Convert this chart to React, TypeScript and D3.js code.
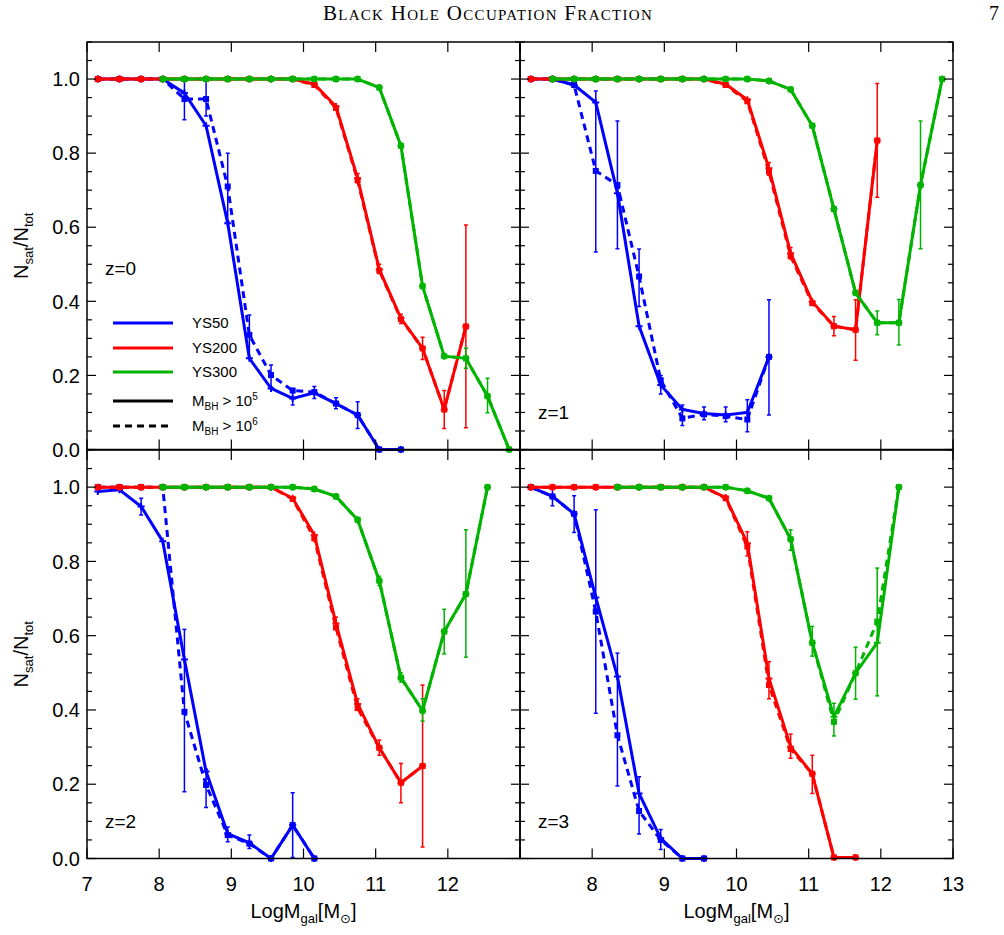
import { useRef, useEffect } from "react";
import * as d3 from "d3";

const N = null;

// mass bins (log M_gal)
const xBins = [7.15, 7.45, 7.75, 8.05, 8.35, 8.65, 8.95, 9.25, 9.55, 9.85, 10.15, 10.45, 10.75, 11.05, 11.35, 11.65, 11.95, 12.25, 12.55, 12.85];

// z = 0
const z0BlueSolid = [1, 1, 1, 1, 0.962, 0.874, 0.611, 0.246, 0.165, 0.138, 0.153, 0.124, 0.093, 0, 0, N, N, N, N, N];
const z0BlueDashed = [1, 1, 1, 1, 0.946, 0.946, 0.71, 0.309, 0.201, 0.159, 0.155, 0.124, 0.093, 0, 0, N, N, N, N, N];
const z0RedSolid = [1, 1, 1, 1, 1, 1, 1, 1, 1, 1, 0.986, 0.926, 0.732, 0.486, 0.354, 0.273, 0.108, 0.332, N, N];
const z0RedDashed = [1, 1, 1, 1, 1, 1, 1, 1, 1, 1, 0.984, 0.922, 0.727, 0.483, 0.352, 0.273, 0.108, 0.332, N, N];
const z0GreenSolid = [N, N, N, 1, 1, 1, 1, 1, 1, 1, 1, 1, 1, 0.977, 0.82, 0.441, 0.252, 0.246, 0.144, 0];
const z0GreenDashed = [N, N, N, 1, 1, 1, 1, 1, 1, 1, 1, 1, 1, 0.977, 0.82, 0.441, 0.252, 0.246, 0.144, 0];
const z0BlueErr = [[8.35, 0.89, 0.995], [8.65, 0.9, 1.0], [8.95, 0.615, 0.8], [9.25, 0.246, 0.363], [9.55, 0.169, 0.228], [9.85, 0.12, 0.165], [10.15, 0.138, 0.17], [10.45, 0.11, 0.14], [10.75, 0.057, 0.129]];
const z0RedErr = [[10.75, 0.72, 0.745], [11.05, 0.475, 0.5], [11.35, 0.34, 0.365], [11.65, 0.243, 0.303], [11.95, 0.057, 0.159], [12.25, 0.059, 0.606]];
const z0GreenErr = [[12.25, 0.219, 0.273], [12.55, 0.099, 0.192]];

// z = 1
const z1BlueSolid = [1, 1, 0.984, 0.937, 0.692, 0.333, 0.174, 0.108, 0.097, 0.093, 0.1, 0.25, N, N, N, N, N, N, N, N];
const z1BlueDashed = [1, 1, 0.984, 0.752, 0.714, 0.467, 0.187, 0.084, 0.095, 0.09, 0.081, 0.25, N, N, N, N, N, N, N, N];
const z1RedSolid = [1, 1, 1, 1, 1, 1, 1, 1, 1, 0.986, 0.944, 0.759, 0.53, 0.399, 0.333, 0.323, 0.834, N, N, N];
const z1RedDashed = [1, 1, 1, 1, 1, 1, 1, 1, 1, 0.984, 0.94, 0.75, 0.522, 0.395, 0.333, 0.323, 0.834, N, N, N];
const z1GreenSolid = [N, 1, 1, 1, 1, 1, 1, 1, 1, 1, 1, 0.995, 0.972, 0.874, 0.649, 0.423, 0.342, 0.342, 0.714, 1];
const z1GreenDashed = [N, 1, 1, 1, 1, 1, 1, 1, 1, 1, 1, 0.995, 0.972, 0.874, 0.649, 0.423, 0.342, 0.342, 0.714, 1];
const z1BlueErr = [[8.05, 0.533, 0.968], [8.35, 0.542, 0.887], [8.65, 0.386, 0.541], [8.95, 0.15, 0.2], [9.25, 0.065, 0.12], [9.55, 0.08, 0.115], [9.85, 0.075, 0.115], [10.15, 0.048, 0.134], [10.45, 0.093, 0.404]];
const z1RedErr = [[10.45, 0.74, 0.775], [10.75, 0.515, 0.545], [11.35, 0.307, 0.359], [11.65, 0.241, 0.404], [11.95, 0.681, 0.988]];
const z1GreenErr = [[11.95, 0.31, 0.374], [12.25, 0.282, 0.405], [12.55, 0.542, 0.887]];

// z = 2
const z2BlueSolid = [0.988, 0.993, 0.948, 0.854, 0.536, 0.234, 0.067, 0.042, 0, 0.09, 0, N, N, N, N, N, N, N, N, N];
const z2BlueDashed = [1, 1, 1, 1, 0.395, 0.198, 0.063, 0.04, 0, 0.09, 0, N, N, N, N, N, N, N, N, N];
const z2RedSolid = [1, 1, 1, 1, 1, 1, 1, 1, 1, 0.97, 0.871, 0.633, 0.416, 0.298, 0.204, 0.249, N, N, N, N];
const z2RedDashed = [1, 1, 1, 1, 1, 1, 1, 1, 1, 0.968, 0.862, 0.622, 0.405, 0.298, 0.204, 0.249, N, N, N, N];
const z2GreenSolid = [N, N, N, 1, 1, 1, 1, 1, 1, 1, 0.995, 0.975, 0.912, 0.748, 0.487, 0.398, 0.611, 0.712, 1, N];
const z2GreenDashed = [N, N, N, 1, 1, 1, 1, 1, 1, 1, 0.995, 0.975, 0.912, 0.748, 0.487, 0.398, 0.611, 0.712, 1, N];
const z2BlueErr = [[7.75, 0.925, 0.97], [8.35, 0.18, 0.617], [8.65, 0.137, 0.24], [8.95, 0.045, 0.085], [9.25, 0.027, 0.063], [9.85, 0.003, 0.177]];
const z2RedErr = [[10.45, 0.62, 0.65], [10.75, 0.4, 0.43], [11.05, 0.278, 0.319], [11.35, 0.15, 0.256], [11.65, 0.031, 0.467]];
const z2GreenErr = [[11.05, 0.735, 0.76], [11.35, 0.475, 0.5], [11.65, 0.37, 0.43], [11.95, 0.551, 0.671], [12.25, 0.542, 0.885]];

// z = 3
const z3BlueSolid = [1, 0.975, 0.928, 0.703, 0.49, 0.175, 0.054, 0, 0, N, N, N, N, N, N, N, N, N, N, N];
const z3BlueDashed = [1, 0.975, 0.928, 0.665, 0.332, 0.128, 0.05, 0, 0, N, N, N, N, N, N, N, N, N, N, N];
const z3RedSolid = [1, 1, 1, 1, 1, 1, 1, 1, 1, 0.972, 0.849, 0.485, 0.301, 0.228, 0.003, 0.003, N, N, N, N];
const z3RedDashed = [1, 1, 1, 1, 1, 1, 1, 1, 1, 0.97, 0.84, 0.467, 0.295, 0.228, 0.003, 0.003, N, N, N, N];
const z3GreenSolid = [N, N, N, N, 1, 1, 1, 1, 1, 1, 0.99, 0.97, 0.86, 0.581, 0.382, 0.499, 0.581, 1, N, N];
const z3GreenDashed = [N, N, N, N, 1, 1, 1, 1, 1, 1, 0.99, 0.97, 0.86, 0.581, 0.368, 0.499, 0.638, 1, N, N];
const z3BlueErr = [[7.45, 0.95, 1.0], [7.75, 0.878, 0.977], [8.05, 0.391, 0.939], [8.35, 0.195, 0.553], [8.65, 0.066, 0.22], [8.95, 0.024, 0.078]];
const z3RedErr = [[10.15, 0.815, 0.88], [10.45, 0.43, 0.53], [10.75, 0.27, 0.335], [11.05, 0.175, 0.278]];
const z3GreenErr = [[10.75, 0.83, 0.885], [11.05, 0.545, 0.625], [11.35, 0.33, 0.418], [11.65, 0.429, 0.569], [11.95, 0.438, 0.782]];

const legendNames = ["YS50", "YS200", "YS300"];
const yTicks = [0, 0.2, 0.4, 0.6, 0.8, 1.0];
const xTicks = [7, 8, 9, 10, 11, 12, 13];

const BLUE = "#0000ff";
const RED = "#ff0000";
const GREEN = "#00b400";
const FONT = "'Liberation Sans', Arial, Helvetica, sans-serif";
const SERIF = "'Liberation Serif', 'Times New Roman', serif";

type Err = number[];
interface Panel {
  label: string;
  col: number;
  row: number;
  series: { color: string; solid: (number | null)[]; dashed: (number | null)[]; err: Err[] }[];
}

const panels: Panel[] = [
  {
    label: "z=0", col: 0, row: 0,
    series: [
      { color: BLUE, solid: z0BlueSolid, dashed: z0BlueDashed, err: z0BlueErr },
      { color: RED, solid: z0RedSolid, dashed: z0RedDashed, err: z0RedErr },
      { color: GREEN, solid: z0GreenSolid, dashed: z0GreenDashed, err: z0GreenErr },
    ],
  },
  {
    label: "z=1", col: 1, row: 0,
    series: [
      { color: BLUE, solid: z1BlueSolid, dashed: z1BlueDashed, err: z1BlueErr },
      { color: RED, solid: z1RedSolid, dashed: z1RedDashed, err: z1RedErr },
      { color: GREEN, solid: z1GreenSolid, dashed: z1GreenDashed, err: z1GreenErr },
    ],
  },
  {
    label: "z=2", col: 0, row: 1,
    series: [
      { color: BLUE, solid: z2BlueSolid, dashed: z2BlueDashed, err: z2BlueErr },
      { color: RED, solid: z2RedSolid, dashed: z2RedDashed, err: z2RedErr },
      { color: GREEN, solid: z2GreenSolid, dashed: z2GreenDashed, err: z2GreenErr },
    ],
  },
  {
    label: "z=3", col: 1, row: 1,
    series: [
      { color: BLUE, solid: z3BlueSolid, dashed: z3BlueDashed, err: z3BlueErr },
      { color: RED, solid: z3RedSolid, dashed: z3RedDashed, err: z3RedErr },
      { color: GREEN, solid: z3GreenSolid, dashed: z3GreenDashed, err: z3GreenErr },
    ],
  },
];

const colX = [[87, 520], [520, 953]];
const rowY = [[449.5, 42], [858.5, 450]];

export default function App() {
  const svgRef = useRef<SVGSVGElement>(null);

  useEffect(() => {
    if (!svgRef.current) return;
    const svg = d3.select(svgRef.current);
    svg.selectAll("*").remove();

    // page header
    svg.append("text")
      .attr("x", 488).attr("y", 20)
      .attr("text-anchor", "middle")
      .attr("font-family", SERIF)
      .attr("font-size", 21)
      .attr("letter-spacing", 1.3)
      .style("font-variant", "small-caps")
      .text("Black Hole Occupation Fraction");
    svg.append("text")
      .attr("x", 999).attr("y", 20)
      .attr("text-anchor", "end")
      .attr("font-family", SERIF)
      .attr("font-size", 20)
      .text("7");

    panels.forEach((p) => {
      const x = d3.scaleLinear().domain([7, 13]).range(colX[p.col]);
      const y = d3.scaleLinear().domain([0, 1.1]).range(rowY[p.row]);
      const [x0, x1] = colX[p.col];
      const [yb, yt] = rowY[p.row];
      const g = svg.append("g");

      const clipId = `clip-${p.col}-${p.row}`;
      svg.append("defs").append("clipPath").attr("id", clipId)
        .append("rect").attr("x", x0).attr("y", yt - 4).attr("width", x1 - x0).attr("height", yb - yt + 8);

      const plot = g.append("g").attr("clip-path", `url(#${clipId})`);

      const line = d3.line<number | null>()
        .defined((d) => d != null)
        .x((_, i) => x(xBins[i]))
        .y((d) => y(d as number));

      p.series.forEach((s) => {
        // error bars
        s.err.forEach(([xv, lo, hi]) => {
          const cx = x(xv);
          plot.append("line")
            .attr("x1", cx).attr("x2", cx).attr("y1", y(lo)).attr("y2", y(hi))
            .attr("stroke", s.color).attr("stroke-width", 1.5);
          [lo, hi].forEach((v) => {
            plot.append("line")
              .attr("x1", cx - 2).attr("x2", cx + 2).attr("y1", y(v)).attr("y2", y(v))
              .attr("stroke", s.color).attr("stroke-width", 1.5);
          });
        });

        plot.append("path").datum(s.dashed)
          .attr("fill", "none").attr("stroke", s.color)
          .attr("stroke-width", 3).attr("stroke-dasharray", "7,5")
          .attr("d", line);
        plot.append("path").datum(s.solid)
          .attr("fill", "none").attr("stroke", s.color)
          .attr("stroke-width", 3)
          .attr("d", line);

        // markers: squares for dashed, plus for solid
        s.dashed.forEach((v, i) => {
          if (v == null) return;
          plot.append("rect")
            .attr("x", x(xBins[i]) - 3).attr("y", y(v) - 3)
            .attr("width", 6).attr("height", 6)
            .attr("fill", s.color);
        });
        s.solid.forEach((v, i) => {
          if (v == null) return;
          const cx = x(xBins[i]), cy = y(v);
          plot.append("path")
            .attr("d", `M${cx - 3.5},${cy}H${cx + 3.5}M${cx},${cy - 3.5}V${cy + 3.5}`)
            .attr("stroke", s.color).attr("stroke-width", 2);
        });
      });

      // frame
      g.append("rect")
        .attr("x", x0).attr("y", yt).attr("width", x1 - x0).attr("height", yb - yt)
        .attr("fill", "none").attr("stroke", "#000").attr("stroke-width", 1.5);

      // x ticks (top and bottom, inward)
      xTicks.forEach((t) => {
        const tx = x(t);
        g.append("line").attr("x1", tx).attr("x2", tx).attr("y1", yb).attr("y2", yb - 10)
          .attr("stroke", "#000").attr("stroke-width", 1.2);
        g.append("line").attr("x1", tx).attr("x2", tx).attr("y1", yt).attr("y2", yt + 10)
          .attr("stroke", "#000").attr("stroke-width", 1.2);
      });

      // y ticks, major + minor, both sides
      d3.range(0, 1.1001, 0.05).forEach((t) => {
        const isMajor = Math.abs(Math.round(t * 5) - t * 5) < 1e-6;
        const len = isMajor ? 9 : 5;
        const ty = y(t);
        g.append("line").attr("x1", x0).attr("x2", x0 + len).attr("y1", ty).attr("y2", ty)
          .attr("stroke", "#000").attr("stroke-width", 1.2);
        g.append("line").attr("x1", x1).attr("x2", x1 - len).attr("y1", ty).attr("y2", ty)
          .attr("stroke", "#000").attr("stroke-width", 1.2);
      });

      // y tick labels on left column
      if (p.col === 0) {
        yTicks.forEach((t) => {
          g.append("text")
            .attr("x", 80).attr("y", y(t)).attr("dy", "0.36em")
            .attr("text-anchor", "end")
            .attr("font-family", FONT).attr("font-size", 20)
            .text(t.toFixed(1));
        });
        const yl = g.append("text")
          .attr("transform", `translate(28,${(yb + yt) / 2}) rotate(-90)`)
          .attr("text-anchor", "middle")
          .attr("font-family", FONT).attr("font-size", 20);
        yl.append("tspan").text("N");
        yl.append("tspan").attr("dy", 5).attr("font-size", 13).text("sat");
        yl.append("tspan").attr("dy", -5).text("/N");
        yl.append("tspan").attr("dy", 5).attr("font-size", 13).text("tot");
      }

      // x tick labels on bottom row
      if (p.row === 1) {
        xTicks
          .filter((t) => (p.col === 0 ? t < 13 : t > 7))
          .forEach((t) => {
            g.append("text")
              .attr("x", x(t)).attr("y", 891)
              .attr("text-anchor", "middle")
              .attr("font-family", FONT).attr("font-size", 20)
              .text(String(t));
          });
        const xl = g.append("text")
          .attr("x", (x0 + x1) / 2).attr("y", 918)
          .attr("text-anchor", "middle")
          .attr("font-family", FONT).attr("font-size", 20);
        xl.append("tspan").text("LogM");
        xl.append("tspan").attr("dy", 5).attr("font-size", 13).text("gal");
        xl.append("tspan").attr("dy", -5).text("[M");
        xl.append("tspan").attr("dy", 5).attr("font-size", 13)
          .attr("font-family", "'DejaVu Sans', sans-serif").text("⊙");
        xl.append("tspan").attr("dy", -5).text("]");
      }

      // panel label
      const lx = p.col === 0 ? 105 : 538;
      const ly = p.row === 0 ? (p.col === 0 ? 275 : 419) : 828;
      g.append("text")
        .attr("x", lx).attr("y", ly)
        .attr("font-family", FONT).attr("font-size", 19)
        .text(p.label);

      // legend in first panel
      if (p.col === 0 && p.row === 0) {
        const rows = [
          { color: BLUE, dash: null, y: 323 },
          { color: RED, dash: null, y: 348 },
          { color: GREEN, dash: null, y: 372 },
          { color: "#000", dash: null, y: 401 },
          { color: "#000", dash: "7,5", y: 426 },
        ];
        rows.forEach((r, i) => {
          g.append("line")
            .attr("x1", 113).attr("x2", 173).attr("y1", r.y).attr("y2", r.y)
            .attr("stroke", r.color).attr("stroke-width", 3)
            .attr("stroke-dasharray", r.dash);
          const t = g.append("text")
            .attr("x", 192).attr("y", r.y).attr("dy", "0.36em")
            .attr("font-family", FONT).attr("font-size", 15);
          if (i < 3) {
            t.text(legendNames[i]);
          } else {
            t.append("tspan").text("M");
            t.append("tspan").attr("dy", 4).attr("font-size", 10).text("BH");
            t.append("tspan").attr("dy", -4).text(" > 10");
            t.append("tspan").attr("dy", -6).attr("font-size", 10).text(i === 3 ? "5" : "6");
          }
        });
      }
    });
  }, []);

  return (
    <div style={{ position: "absolute", left: 0, top: 0 }}>
      <svg ref={svgRef} width={1004} height={935} style={{ display: "block", background: "#fff" }} />
    </div>
  );
}
